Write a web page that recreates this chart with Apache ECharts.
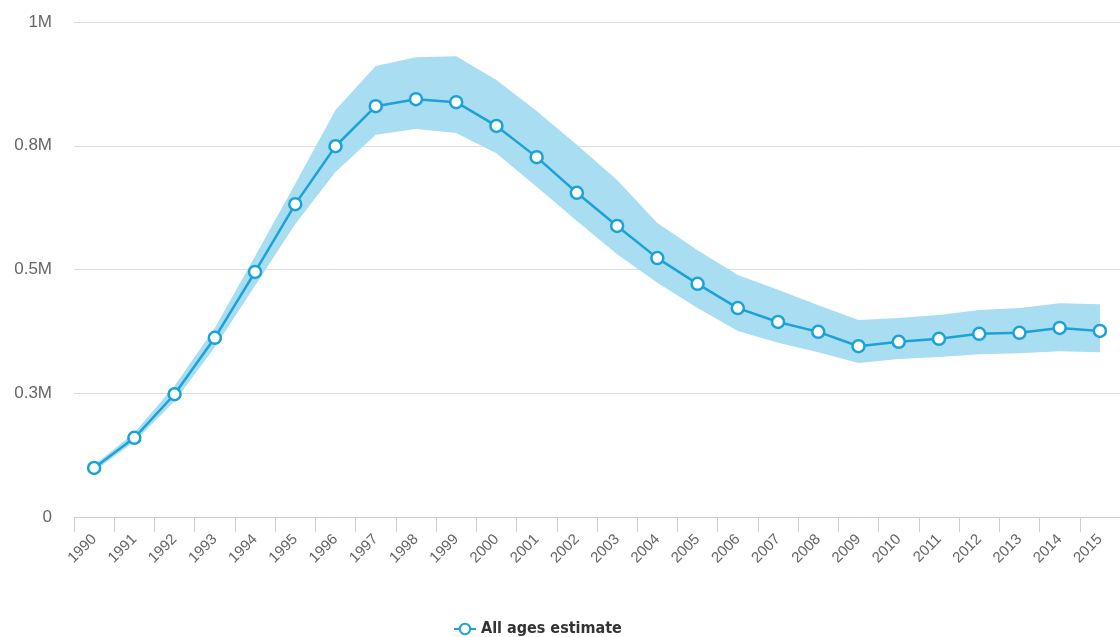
<!DOCTYPE html>
<html>
<head>
<meta charset="utf-8">
<script src="https://cdn.jsdelivr.net/npm/echarts@6/dist/echarts.min.js"></script>
<style>
html,body{margin:0;padding:0;background:#fff;}
#chart{width:1120px;height:637px;}
</style>
</head>
<body>
<div id="chart"></div>
<script>
const years = ['1990','1991','1992','1993','1994','1995','1996','1997','1998','1999','2000','2001','2002','2003','2004','2005','2006','2007','2008','2009','2010','2011','2012','2013','2014','2015'];
const estimate = [99000,160000,248000,362000,495000,632000,749000,830000,844000,838000,790000,727000,655000,588000,523000,471000,422000,394000,374000,345000,354000,360000,370000,372000,382000,376000];
const upper = [105000,170000,265000,382000,527000,673000,822000,911000,929000,931000,883000,820000,752000,681000,594000,539000,489000,459000,428000,398000,402000,408000,418000,422000,432000,430000];
const lower = [93000,152000,234000,343000,467000,592000,697000,772000,784000,776000,735000,667000,598000,531000,473000,422000,376000,352000,333000,311000,319000,323000,329000,331000,335000,333000];
const yTickLabels = ['0','0.3M','0.5M','0.8M','1M'];
const yTickValues = [0,250000,500000,750000,1000000];

const bandWidth = upper.map((u,i)=>u-lower[i]);
const chart = echarts.init(document.getElementById('chart'));
chart.setOption({
  animation:false,
  grid:{left:74,right:0,top:22,bottom:120},
  legend:{
    top:616,left:448,
    data:['All ages estimate'],
    itemWidth:22,itemHeight:13,itemGap:6,
    textStyle:{fontFamily:'DejaVu Sans Condensed',fontWeight:'bold',fontSize:16,color:'#333'}
  },
  xAxis:{
    type:'category',data:years,boundaryGap:true,
    axisLine:{lineStyle:{color:'#c8cdd8'}},
    axisTick:{show:true,length:15,lineStyle:{color:'#c8cdd8'},alignWithLabel:false},
    axisLabel:{rotate:45,fontFamily:'Liberation Sans',fontSize:15,color:'#666',margin:20,interval:0}
  },
  yAxis:{
    type:'value',min:0,max:1000000,interval:250000,
    axisLine:{show:false},axisTick:{show:false},
    splitLine:{lineStyle:{color:'#dcdcdc'}},
    axisLabel:{
      fontFamily:'Liberation Sans',fontSize:17,color:'#666',margin:22,
      formatter:function(v){const i=yTickValues.indexOf(v);return i>=0?yTickLabels[i]:'';}
    }
  },
  series:[
    {name:'lower',type:'line',data:lower,stack:'band',symbol:'none',lineStyle:{opacity:0},areaStyle:{opacity:0},silent:true},
    {name:'band',type:'line',data:bandWidth,stack:'band',symbol:'none',lineStyle:{opacity:0},areaStyle:{color:'#a9ddf2',opacity:1},silent:true},
    {name:'All ages estimate',type:'line',data:estimate,symbol:'circle',symbolSize:12,
     color:'#1ba2d6',
     lineStyle:{color:'#1ba2d6',width:2.5},
     itemStyle:{color:'#ffffff',borderColor:'#1ba2d6',borderWidth:2.5}}
  ]
});
</script>
</body>
</html>
